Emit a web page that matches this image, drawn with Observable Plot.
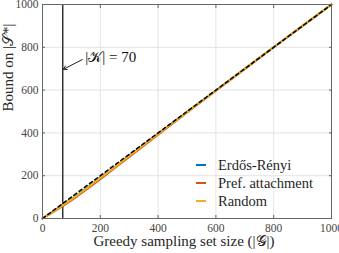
<!DOCTYPE html>
<html><head><meta charset="utf-8">
<script src="https://cdn.jsdelivr.net/npm/d3@7"></script>
<script src="https://cdn.jsdelivr.net/npm/@observablehq/plot@0.6"></script>
<style>
body{margin:0;background:#fff;}
#wrap{position:relative;width:339px;height:253px;font-family:"Liberation Serif","DejaVu Serif",serif;}
#legend{position:absolute;left:196px;top:156px;font-size:14.5px;color:#262626;}
#legend .row{display:flex;align-items:center;height:18.2px;white-space:nowrap;}
#legend .sw{width:10px;height:2px;margin-right:12px;}
</style></head><body><div id="wrap"></div>
<script>
const sizes  = [0, 25, 50, 75, 100, 150, 200, 250, 300, 400, 500, 600, 700, 800, 900, 1000];
const erdos  = [0, 22, 45, 67, 90, 139, 190, 241, 293, 395, 497, 598, 699, 800, 900, 1000];
const pref   = [0, 20, 41, 62, 85, 133, 184, 236, 288, 392, 495, 597, 699, 800, 900, 1000];
const random = [0, 22, 44, 66, 89, 138, 189, 240, 292, 395, 497, 598, 699, 800, 900, 1000];
const boundLine = [0, 1000];
const seriesNames = ["Erdős-Rényi", "Pref. attachment", "Random"];
const seriesColors = ["#0072BD", "#D95319", "#EDB120"];
const xTicks = [0, 200, 400, 600, 800, 1000];
const yTicks = [0, 200, 400, 600, 800, 1000];
const kValue = 70;
const annotText = "|𝒦| = 70";
const annotArrow = {x1: 138, y1: 743, x2: 72, y2: 697};
const annotPos = {x: 148, y: 752};
const xLabel = "Greedy sampling set size (|𝒢|)";
const yLabel = "Bound on |𝒮*|";

const rows = [];
[erdos, pref, random].forEach((ys, k) => sizes.forEach((s, i) => rows.push({x: s, y: ys[i], s: seriesNames[k]})));
const diag = boundLine.map(v => ({x: v, y: v}));

const font = '"Liberation Serif","DejaVu Serif",serif';
const chart = Plot.plot({
  width: 339, height: 253,
  marginLeft: 42, marginRight: 8, marginTop: 4, marginBottom: 35,
  style: {fontFamily: font, color: "#262626", background: "#fff", overflow: "visible"},
  x: {domain: [0, 1000]},
  y: {domain: [0, 1000]},
  color: {domain: seriesNames, range: seriesColors},
  marks: [
    Plot.gridX({ticks: xTicks, stroke: "#e3e3e3", strokeOpacity: 1}),
    Plot.gridY({ticks: yTicks, stroke: "#e3e3e3", strokeOpacity: 1}),
    Plot.ruleX([kValue], {stroke: "#333", strokeWidth: 1.5}),
    Plot.line(rows, {x: "x", y: "y", z: "s", stroke: "s", strokeWidth: 2}),
    Plot.line(diag, {x: "x", y: "y", stroke: "#000", strokeWidth: 1.5, strokeDasharray: "3.5,3"}),
    Plot.arrow([annotArrow], {x1: "x1", y1: "y1", x2: "x2", y2: "y2", stroke: "#222", strokeWidth: 1, headLength: 6}),
    Plot.text([annotPos], {x: "x", y: "y", text: () => annotText, textAnchor: "start", fontSize: 15, fill: "#111"}),
    Plot.frame({stroke: "#666"}),
    Plot.axisX({ticks: xTicks, anchor: "bottom", tickSize: -3, tickPadding: 8, fontSize: 11.5, tickFormat: d => String(d), label: null, stroke: "#666", fill: "#444"}),
    Plot.axisX({ticks: xTicks, anchor: "top", tickSize: -3, tickFormat: () => "", label: null, stroke: "#666"}),
    Plot.axisY({ticks: yTicks, anchor: "left", tickSize: -3, tickPadding: 7, fontSize: 11.5, tickFormat: d => String(d), label: null, stroke: "#666", fill: "#444"}),
    Plot.axisY({ticks: yTicks, anchor: "right", tickSize: -3, tickFormat: () => "", label: null, stroke: "#666"}),
    Plot.text([xLabel], {frameAnchor: "bottom", dy: 27, dx: -3, text: d => d, fontSize: 15, fill: "#262626"}),
    Plot.text([yLabel], {frameAnchor: "left", dx: -34, rotate: -90, text: d => d, fontSize: 15, fill: "#262626"})
  ]
});
const wrap = document.getElementById("wrap");
wrap.appendChild(chart);
const leg = document.createElement("div");
leg.id = "legend";
seriesNames.forEach((n, i) => {
  const r = document.createElement("div"); r.className = "row";
  const sw = document.createElement("span"); sw.className = "sw"; sw.style.background = seriesColors[i];
  const t = document.createElement("span"); t.textContent = n;
  r.appendChild(sw); r.appendChild(t); leg.appendChild(r);
});
wrap.appendChild(leg);
</script>
</body></html>
